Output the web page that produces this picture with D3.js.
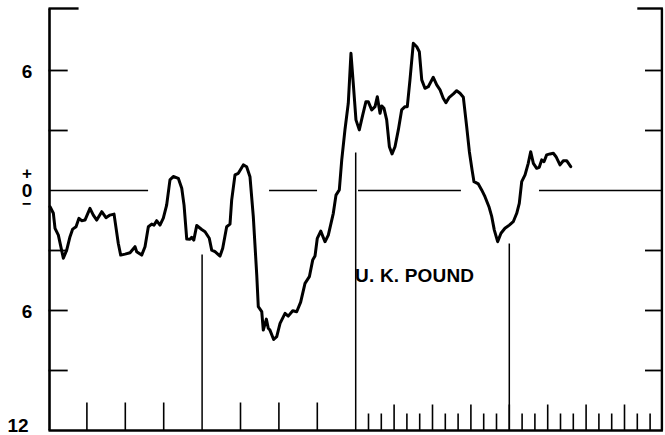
<!DOCTYPE html>
<html>

<head>
    <meta charset="utf-8">
    <title>U. K. Pound</title>
    <script src="https://d3js.org/d3.v7.min.js"></script>
    <style>
        body { margin: 0; background: #fff; }
        text { font-family: "Liberation Sans", Arial, sans-serif; font-weight: bold; fill: #000; }
    </style>
</head>

<body>
    <svg width="665" height="435"></svg>
    <script>
        // Data: time in months from the left edge, value in percent
        var months = [0.12, 0.38, 0.51, 0.77, 1.16, 1.42, 1.68, 1.89, 2.15, 2.38, 2.59, 2.85, 3.24, 3.50, 3.77, 4.16,
            4.49, 4.80, 5.12, 5.45, 5.64, 5.98, 6.37, 6.76, 6.89, 7.28, 7.54, 7.80, 8.06, 8.24, 8.45, 8.71,
            8.97, 9.23, 9.49, 9.75, 10.14, 10.41, 10.59, 10.80, 11.05, 11.19, 11.35, 11.58, 11.97, 12.23, 12.56, 12.75,
            13.01, 13.40, 13.61, 13.92, 14.18, 14.31, 14.57, 14.83, 15.22, 15.48, 15.74, 16.00, 16.27, 16.39, 16.66, 16.78,
            17.02, 17.17, 17.30, 17.59, 17.83, 18.09, 18.48, 18.73, 19.08, 19.39, 19.70, 20.04, 20.38, 20.64, 20.82, 21.00,
            21.27, 21.60, 21.86, 22.25, 22.46, 22.72, 22.91, 23.16, 23.42, 23.63, 23.81, 24.02, 24.28, 24.55, 24.80, 24.98,
            25.25, 25.51, 25.69, 25.90, 26.03, 26.21, 26.42, 26.63, 26.84, 27.07, 27.33, 27.59, 27.85, 28.03, 28.24, 28.50,
            28.77, 28.97, 29.16, 29.41, 29.67, 30.06, 30.33, 30.59, 30.84, 31.05, 31.31, 31.63, 31.89, 32.15, 32.41, 32.67,
            32.88, 33.09, 33.24, 33.58, 33.84, 34.10, 34.41, 34.63, 34.83, 35.09, 35.35, 35.66, 36.00, 36.31, 36.58, 36.78,
            36.97, 37.23, 37.48, 37.67, 37.88, 38.14, 38.34, 38.53, 38.71, 38.92, 39.18, 39.44, 39.65, 39.96, 40.22, 40.48,
            40.80];
        var poundValues = [-0.81, -1.14, -1.89, -2.23, -3.39, -2.98, -2.31, -1.93, -1.81, -1.39, -1.51, -1.48, -0.89, -1.23, -1.48, -1.06,
            -1.36, -1.23, -1.18, -2.64, -3.23, -3.18, -3.11, -2.81, -3.06, -3.23, -2.81, -1.81, -1.68, -1.73, -1.51, -1.73,
            -1.38, -0.73, 0.53, 0.70, 0.61, 0.11, -0.73, -2.43, -2.44, -2.34, -2.48, -1.75, -1.95, -2.06, -2.39, -2.98,
            -3.06, -3.28, -2.89, -1.81, -1.68, -0.48, 0.78, 0.86, 1.28, 1.19, 0.69, -1.31, -4.23, -5.81, -6.06, -6.98,
            -6.43, -6.89, -6.98, -7.45, -7.31, -6.64, -6.14, -6.28, -6.01, -6.06, -5.58, -4.64, -4.31, -3.48, -3.28, -2.39,
            -2.03, -2.56, -2.23, -1.14, -0.23, 0.03, 1.53, 3.03, 4.36, 6.86, 5.36, 3.53, 3.03, 3.78, 4.44, 4.44,
            4.03, 4.19, 4.69, 3.86, 4.23, 4.11, 3.53, 2.19, 1.83, 2.19, 3.03, 4.03, 4.19, 4.19, 5.53, 7.36,
            7.19, 6.94, 5.53, 5.11, 5.19, 5.66, 5.28, 5.03, 4.61, 4.39, 4.66, 4.83, 4.99, 4.86, 4.66, 3.19,
            1.94, 1.03, 0.44, 0.33, 0.03, -0.31, -0.81, -1.31, -1.98, -2.56, -2.14, -1.89, -1.73, -1.56, -1.14, -0.64,
            0.44, 0.78, 1.36, 1.94, 1.36, 1.11, 1.16, 1.53, 1.44, 1.78, 1.83, 1.86, 1.69, 1.28, 1.49, 1.49,
            1.19];

        var yTickValues = [6, 3, -3, -6, -9];
        var quarterTicks = [3, 6, 9, 15, 18, 21];
        var monthTicks = d3.range(25, 48);
        var longMarks = [{ m: 12, top: -3.2 }, { m: 24, top: 1.9 }, { m: 36, top: -2.65 }];
        var zeroSegments = [[0.05, 7.78], [17.23, 20.98], [24.18, 32.22], [38.32, 48]];

        var svg = d3.select("svg");

        var x = d3.scaleLinear().domain([0, 48]).range([48.5, 662.9]);
        var y = d3.scaleLinear().domain([-12, 9.1]).range([430.5, 8.5]);

        // Frame: left, right and bottom axes
        svg.append("line").attr("x1", x(0) + 1).attr("x2", x(0) + 1).attr("y1", y(9.1)).attr("y2", y(-12))
            .attr("stroke", "#000").attr("stroke-width", 2.6);
        svg.append("line").attr("x1", x(48) - 1).attr("x2", x(48) - 1).attr("y1", y(9.1)).attr("y2", y(-12))
            .attr("stroke", "#000").attr("stroke-width", 2.4);
        svg.append("line").attr("x1", x(0)).attr("x2", x(48)).attr("y1", y(-12)).attr("y2", y(-12))
            .attr("stroke", "#000").attr("stroke-width", 2.6);

        // top caps
        svg.append("line").attr("x1", x(0)).attr("x2", x(2.35)).attr("y1", y(9.1)).attr("y2", y(9.1))
            .attr("stroke", "#000").attr("stroke-width", 2.4);
        svg.append("line").attr("x1", x(46)).attr("x2", x(48)).attr("y1", y(9.1)).attr("y2", y(9.1))
            .attr("stroke", "#000").attr("stroke-width", 2.4);

        // Y ticks, inward on both sides
        svg.selectAll(".tl").data(yTickValues).enter().append("line")
            .attr("x1", x(0)).attr("x2", x(1.5))
            .attr("y1", function (d) { return y(d); }).attr("y2", function (d) { return y(d); })
            .attr("stroke", "#000").attr("stroke-width", 1.8);
        svg.selectAll(".tr").data(yTickValues).enter().append("line")
            .attr("x1", x(46.6)).attr("x2", x(48))
            .attr("y1", function (d) { return y(d); }).attr("y2", function (d) { return y(d); })
            .attr("stroke", "#000").attr("stroke-width", 1.8);

        // zero line, broken
        svg.selectAll(".zero").data(zeroSegments).enter().append("line")
            .attr("x1", function (d) { return x(d[0]); }).attr("x2", function (d) { return x(d[1]); })
            .attr("y1", y(0)).attr("y2", y(0))
            .attr("stroke", "#000").attr("stroke-width", 1.4);

        // X ticks on the bottom axis
        svg.selectAll(".q").data(quarterTicks).enter().append("line")
            .attr("x1", function (d) { return x(d); }).attr("x2", function (d) { return x(d); })
            .attr("y1", y(-12)).attr("y2", y(-12) - 28)
            .attr("stroke", "#000").attr("stroke-width", 1.6);
        svg.selectAll(".m").data(monthTicks).enter().append("line")
            .attr("x1", function (d) { return x(d); }).attr("x2", function (d) { return x(d); })
            .attr("y1", y(-12)).attr("y2", function (d) { return y(-12) - (d % 3 == 0 ? 26 : 17); })
            .attr("stroke", "#000").attr("stroke-width", 1.6);
        svg.selectAll(".long").data(longMarks).enter().append("line")
            .attr("x1", function (d) { return x(d.m); }).attr("x2", function (d) { return x(d.m); })
            .attr("y1", y(-12)).attr("y2", function (d) { return y(d.top); })
            .attr("stroke", "#000").attr("stroke-width", 1.5);

        // Y labels
        svg.append("text").attr("x", 27).attr("y", y(6) + 7.3).attr("text-anchor", "middle")
            .style("font-size", "19px").text("6");
        svg.append("text").attr("x", 27).attr("y", y(-6) + 7.3).attr("text-anchor", "middle")
            .style("font-size", "19px").text("6");
        svg.append("text").attr("x", 18).attr("y", y(-12) + 1.5).attr("text-anchor", "middle")
            .style("font-size", "19px").text("12");

        // "+ 0 −" stacked in one label
        var zeroLab = svg.append("text").attr("text-anchor", "middle");
        zeroLab.append("tspan").attr("x", 27).attr("y", y(0) - 11.3)
            .style("font-size", "17px").text("+");
        zeroLab.append("tspan").attr("x", 27).attr("y", y(0) + 6.3)
            .style("font-size", "19px").text("0");
        zeroLab.append("tspan").attr("x", 26.5).attr("y", y(0) + 18)
            .style("font-size", "16px").text("\u2212");

        // the series
        var punti = months.map(function (m, i) { return [m, poundValues[i]]; });
        var linea = d3.line()
            .x(function (d) { return x(d[0]); })
            .y(function (d) { return y(d[1]); });
        svg.append("path").datum(punti)
            .attr("d", linea)
            .attr("fill", "none")
            .attr("stroke", "#000")
            .attr("stroke-width", 3)
            .attr("stroke-linejoin", "round")
            .attr("stroke-linecap", "round");

        svg.append("text").attr("x", x(23.95)).attr("y", y(-4.56))
            .attr("textLength", 119).attr("lengthAdjust", "spacing")
            .style("font-size", "19px").text("U. K. POUND");
    </script>
</body>

</html>
